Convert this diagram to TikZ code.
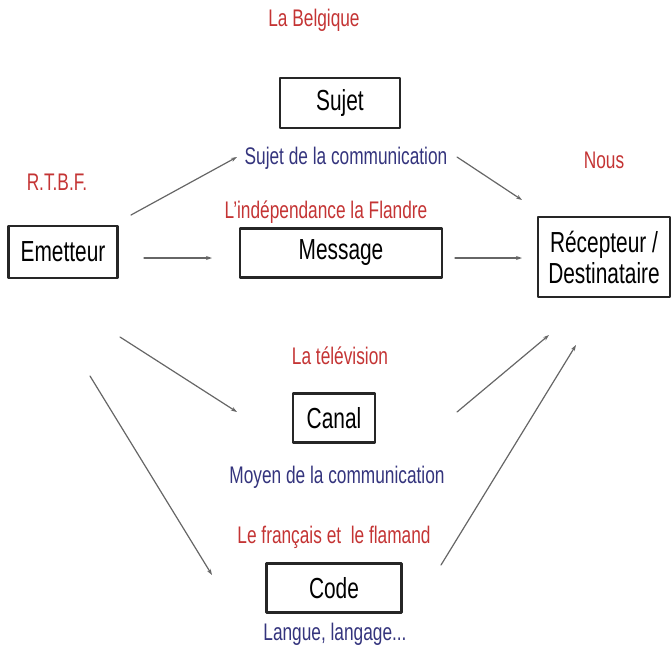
\documentclass[tikz,border=0pt]{standalone}
\usepackage{fontspec}
\setmainfont{Liberation Sans}[FakeStretch=0.72]
\usetikzlibrary{arrows.meta}
\definecolor{rouge}{RGB}{196,52,52}
\definecolor{bleu}{RGB}{52,52,125}
\begin{document}
\begin{tikzpicture}[x=1pt,y=-1pt,line join=round,line cap=round,>={Stealth[length=6pt,width=4pt]},
	boite/.style={draw=black!85,line width=2.4pt,inner sep=0pt,font=\fontsize{29}{31}\selectfont},
	rouge/.style={text=rouge,font=\fontsize{24}{26}\selectfont},
	bleu/.style={text=bleu,font=\fontsize{24}{26}\selectfont},
	fl/.style={->,draw=black!60,line width=1.2pt}]
	\useasboundingbox (0,0) rectangle (671,653);
	\node[boite,minimum width=120pt,minimum height=50pt](sujet) at (340,103){Sujet};
	\node[boite,minimum width=109pt,minimum height=52pt](emetteur) at (63,252){Emetteur};
	\node[boite,minimum width=202pt,minimum height=49pt](message) at (341,253){Message};
	\node[boite,minimum width=132pt,minimum height=80pt,align=center](recepteur) at (604,257){Récepteur /\\Destinataire};
	\node[boite,minimum width=82pt,minimum height=49pt](canal) at (334,418){Canal};
	\node[boite,minimum width=135pt,minimum height=49pt](code) at (334,588){Code};
	\node[rouge](belgique) at (314,20){La Belgique};
	\node[bleu](sujetcomm) at (346,158){Sujet de la communication};
	\node[rouge](nous) at (604,160){Nous};
	\node[rouge](rtbf) at (57,182){R.T.B.F.};
	\node[rouge](independance) at (326,212){L'indépendance la Flandre};
	\node[rouge](television) at (340,356){La télévision};
	\node[bleu](moyen) at (337,477){Moyen de la communication};
	\node[rouge](francais) at (334,537){Le français et\ \ le flamand};
	\node[bleu](langue) at (335,634){Langue, langage...};
	\coordinate(E1) at (131,215);
	\coordinate(S1) at (237,157);
	\coordinate(S2) at (457,157);
	\coordinate(R1) at (522,200);
	\coordinate(E2) at (144,258);
	\coordinate(M1) at (212,258);
	\coordinate(M2) at (455,258);
	\coordinate(R2) at (522,258);
	\coordinate(E3) at (120,337);
	\coordinate(C1) at (237,412);
	\coordinate(E4) at (90,376);
	\coordinate(D1) at (212,575);
	\coordinate(C2) at (457,412);
	\coordinate(R3) at (549,335);
	\coordinate(D2) at (441,565);
	\coordinate(R4) at (576,345);
	\draw[fl] (E1)--(S1);
	\draw[fl] (S2)--(R1);
	\draw[fl] (E2)--(M1);
	\draw[fl] (M2)--(R2);
	\draw[fl] (E3)--(C1);
	\draw[fl] (E4)--(D1);
	\draw[fl] (C2)--(R3);
	\draw[fl] (D2)--(R4);
\end{tikzpicture}
\end{document}
